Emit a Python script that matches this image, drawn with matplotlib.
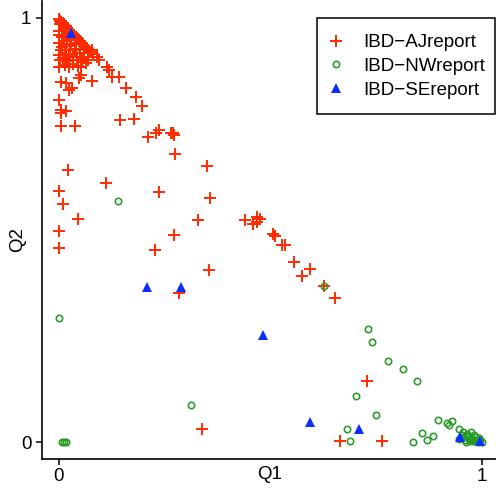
import matplotlib
matplotlib.use("Agg")
import matplotlib.pyplot as plt
from matplotlib.patches import Rectangle

plt.rcParams['font.family'] = ['Liberation Sans', 'DejaVu Sans']

series_names = ["IBD\u2212AJreport", "IBD\u2212NWreport", "IBD\u2212SEreport"]

# IBD-AJreport (red crosses): Q1, Q2
aj_q1 = [
    # dense cluster near (0, 1)
    0.000, 0.003, 0.006, 0.010, 0.013, 0.017, 0.020, 0.024, 0.028, 0.032,
    0.036, 0.040, 0.045, 0.050, 0.055, 0.060, 0.065, 0.070, 0.075, 0.080,
    0.000, 0.010, 0.020, 0.030, 0.040, 0.050, 0.060, 0.070,
    0.000, 0.008, 0.016, 0.025, 0.034, 0.044, 0.055, 0.065,
    0.000, 0.010, 0.020, 0.035, 0.046,
    0.002, 0.012, 0.030, 0.005, 0.018,
    0.004, 0.014, 0.022, 0.008, 0.026, 0.038, 0.003, 0.015, 0.028, 0.042,
    # scattered points
    0.001, 0.024, 0.052, 0.056, 0.079, 0.091, 0.095, 0.115, 0.119, 0.127,
    0.079, 0.142, 0.052, 0.048, 0.005, 0.017, 0.024, 0.032, 0.158, 0.182,
    0.001, 0.197, 0.005, 0.017, 0.005, 0.144, 0.178, 0.005, 0.038, 0.211,
    0.231, 0.238, 0.266, 0.272, 0.269, 0.275, 0.351, 0.022, 0.113, 0.002,
    0.237, 0.357, 0.010, 0.046, 0.329, 0.440, 0.459, 0.469, 0.476, 0.469,
    0.002, 0.273, 0.506, 0.511, 0.527, 0.535, 0.001, 0.227, 0.556, 0.575,
    0.593, 0.355, 0.627, 0.652, 0.285, 0.729, 0.338, 0.665, 0.764,
]
aj_q2 = [
    0.998, 0.994, 0.990, 0.987, 0.983, 0.980, 0.976, 0.972, 0.968, 0.964,
    0.960, 0.955, 0.950, 0.945, 0.940, 0.935, 0.930, 0.925, 0.920, 0.915,
    0.970, 0.958, 0.948, 0.938, 0.928, 0.918, 0.908, 0.900,
    0.940, 0.932, 0.924, 0.916, 0.908, 0.902, 0.896, 0.893,
    0.912, 0.905, 0.898, 0.892, 0.888,
    0.960, 0.945, 0.950, 0.925, 0.915,
    0.985, 0.975, 0.965, 0.955, 0.935, 0.925, 0.900, 0.890, 0.910, 0.940,
    0.885, 0.885, 0.885, 0.905, 0.925, 0.909, 0.901, 0.885, 0.877, 0.862,
    0.851, 0.862, 0.866, 0.859, 0.850, 0.846, 0.830, 0.834, 0.834, 0.814,
    0.807, 0.792, 0.783, 0.781, 0.775, 0.759, 0.761, 0.746, 0.746, 0.720,
    0.728, 0.735, 0.728, 0.724, 0.730, 0.679, 0.650, 0.642, 0.612, 0.593,
    0.589, 0.575, 0.561, 0.526, 0.524, 0.524, 0.514, 0.531, 0.527, 0.520,
    0.498, 0.488, 0.492, 0.487, 0.465, 0.466, 0.459, 0.454, 0.424, 0.392,
    0.408, 0.405, 0.368, 0.341, 0.352, 0.145, 0.031, 0.002, 0.003,
]

# IBD-NWreport (green circles)
nw_q1 = [
    0.141, 0.627, 0.001, 0.730, 0.740, 0.778, 0.814, 0.847, 0.703, 0.749,
    0.313, 0.682, 0.689, 0.837, 0.859, 0.870, 0.885, 0.897, 0.918, 0.921,
    0.929, 0.946, 0.956, 0.974, 0.009, 0.017, 0.012,
    0.950, 0.960, 0.970, 0.980, 0.990, 0.965, 0.975, 0.985, 0.995, 0.955,
    0.962, 0.972, 0.982, 0.992, 1.000, 0.945, 0.952, 0.968, 0.978, 0.988,
]
nw_q2 = [
    0.568, 0.368, 0.292, 0.268, 0.237, 0.191, 0.172, 0.145, 0.110, 0.065,
    0.089, 0.031, 0.004, 0.000, 0.021, 0.005, 0.014, 0.053, 0.046, 0.040,
    0.051, 0.032, 0.024, 0.024, 0.000, 0.000, 0.000,
    0.010, 0.005, 0.015, 0.005, 0.000, 0.020, 0.010, 0.012, 0.005, 0.012,
    0.000, 0.003, 0.018, 0.010, 0.000, 0.008, 0.018, 0.008, 0.002, 0.004,
]

# IBD-SEreport (blue triangles)
se_q1 = [0.030, 0.208, 0.288, 0.482, 0.594, 0.709, 0.949, 0.995]
se_q2 = [0.964, 0.366, 0.365, 0.252, 0.048, 0.031, 0.013, 0.003]

x_ticks = [0, 1]
y_ticks = [0, 1]
x_label = "Q1"
y_label = "Q2"

red = "#FF2A00"
green = "#259A25"
blue = "#0A2EFF"
FS = 13.5

W, H = 496, 488
fig = plt.figure(figsize=(W / 100, H / 100), dpi=100)
ax = fig.add_axes([41.7 / W, (H - 459.3) / H, (499 - 41.7) / W, (459.3 - 1) / H])
ax.set_xlim(-0.04, 1.04)
ax.set_ylim(-0.04, 1.04)

ax.plot(aj_q1, aj_q2, linestyle='none', marker='+', ms=8, mew=1.4, color=red,
        label=series_names[0], clip_on=False)
ax.plot(nw_q1, nw_q2, linestyle='none', marker='o', ms=4.6, mew=1.15, mfc='none',
        mec=green, label=series_names[1], clip_on=False)
ax.plot(se_q1, se_q2, linestyle='none', marker='^', ms=7.5, mew=0, color=blue,
        label=series_names[2], clip_on=False)

for s in ['top', 'right']:
    ax.spines[s].set_visible(False)
for s in ['left', 'bottom']:
    ax.spines[s].set_linewidth(1.2)
    ax.spines[s].set_color('black')

ax.set_xticks(x_ticks)
ax.set_yticks(y_ticks)
ax.set_xticklabels([str(t) for t in x_ticks])
ax.set_yticklabels([str(t) for t in y_ticks])
ax.tick_params(axis='both', direction='out', length=4.5, width=1.1, labelsize=FS,
               colors='black')
ax.tick_params(axis='x', pad=1.5)
ax.tick_params(axis='y', pad=3)

fig.text(270 / W, 1 - 474.5 / H, x_label, ha='center', va='center', fontsize=FS)
fig.text(18 / W, 1 - 240 / H, y_label, ha='center', va='center', fontsize=FS,
         rotation=90)

leg = ax.legend(loc='upper left', bbox_to_anchor=(326.3 / W, 1 - 34.0 / H),
                bbox_transform=fig.transFigure, fontsize=FS, borderpad=0,
                handlelength=1.0, handletextpad=0.95, labelspacing=0.36,
                frameon=False, borderaxespad=0)
fig.patches.append(Rectangle((317 / W, (H - 114) / H), (495 - 317) / W, 96 / H,
                             transform=fig.transFigure, fill=False,
                             edgecolor='black', linewidth=1.1, zorder=5))

fig.savefig("out.png", dpi=100)
